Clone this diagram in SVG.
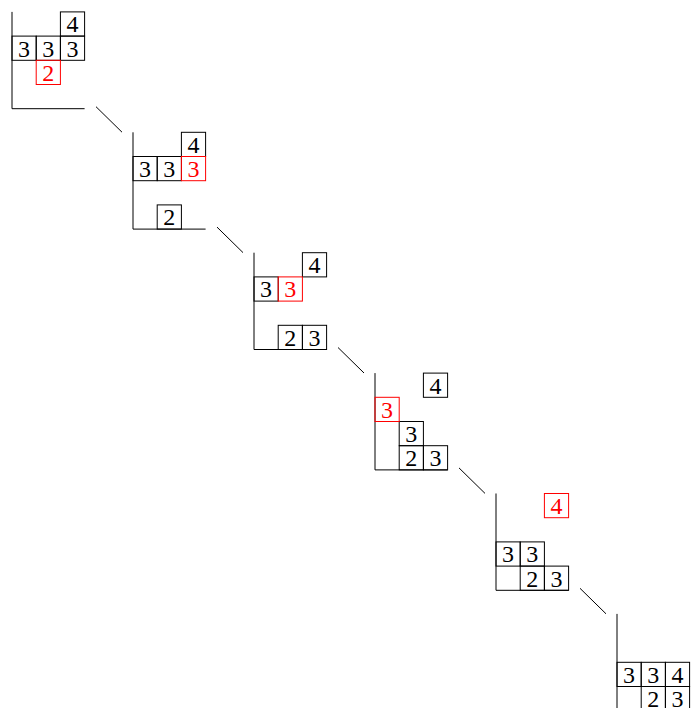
<svg xmlns="http://www.w3.org/2000/svg" width="693" height="708" viewBox="0 0 693 708" font-family="'Liberation Serif', 'DejaVu Serif', serif" font-size="24">
<style>
.ax{fill:none;stroke:#000;stroke-width:1}
.c{fill:none;stroke:#000;stroke-width:1}
.r{fill:none;stroke:#f00;stroke-width:1}
text{text-anchor:middle;fill:#000}
text.t{fill:#f00}
.con line{stroke:#000;stroke-width:1}
</style>
<rect width="693" height="708" fill="#fff"/>
<g class="con" id="connectors">
<line x1="96" y1="106.7" x2="122" y2="132.2"/>
<line x1="217" y1="227.1" x2="243" y2="252.6"/>
<line x1="338" y1="347.5" x2="364" y2="373"/>
<line x1="459" y1="467.9" x2="485" y2="493.4"/>
<line x1="580" y1="588.3" x2="606" y2="613.8"/>
</g>
<g id="stage1" transform="translate(12,108.7)">
<path class="ax" d="M0,-96.8V0H72.6"/>
<rect class="c" x="48.4" y="-96.8" width="24.2" height="24.2"/><text x="60.5" y="-76.3">4</text>
<rect class="c" x="0" y="-72.6" width="24.2" height="24.2"/><text x="12.1" y="-52.1">3</text>
<rect class="c" x="24.2" y="-72.6" width="24.2" height="24.2"/><text x="36.3" y="-52.1">3</text>
<rect class="c" x="48.4" y="-72.6" width="24.2" height="24.2"/><text x="60.5" y="-52.1">3</text>
<rect class="r" x="24.2" y="-48.4" width="24.2" height="24.2"/><text class="t" x="36.3" y="-27.9">2</text>
</g>
<g id="stage2" transform="translate(133,229.1)">
<path class="ax" d="M0,-96.8V0H72.6"/>
<rect class="c" x="48.4" y="-96.8" width="24.2" height="24.2"/><text x="60.5" y="-76.3">4</text>
<rect class="c" x="0" y="-72.6" width="24.2" height="24.2"/><text x="12.1" y="-52.1">3</text>
<rect class="c" x="24.2" y="-72.6" width="24.2" height="24.2"/><text x="36.3" y="-52.1">3</text>
<rect class="c" x="24.2" y="-24.2" width="24.2" height="24.2"/><text x="36.3" y="-3.7">2</text>
<rect class="r" x="48.4" y="-72.6" width="24.2" height="24.2"/><text class="t" x="60.5" y="-52.1">3</text>
</g>
<g id="stage3" transform="translate(254,349.5)">
<path class="ax" d="M0,-96.8V0H72.6"/>
<rect class="c" x="48.4" y="-96.8" width="24.2" height="24.2"/><text x="60.5" y="-76.3">4</text>
<rect class="c" x="0" y="-72.6" width="24.2" height="24.2"/><text x="12.1" y="-52.1">3</text>
<rect class="c" x="24.2" y="-24.2" width="24.2" height="24.2"/><text x="36.3" y="-3.7">2</text>
<rect class="c" x="48.4" y="-24.2" width="24.2" height="24.2"/><text x="60.5" y="-3.7">3</text>
<rect class="r" x="24.2" y="-72.6" width="24.2" height="24.2"/><text class="t" x="36.3" y="-52.1">3</text>
</g>
<g id="stage4" transform="translate(375,469.9)">
<path class="ax" d="M0,-96.8V0H72.6"/>
<rect class="c" x="48.4" y="-96.8" width="24.2" height="24.2"/><text x="60.5" y="-76.3">4</text>
<rect class="c" x="24.2" y="-48.4" width="24.2" height="24.2"/><text x="36.3" y="-27.9">3</text>
<rect class="c" x="24.2" y="-24.2" width="24.2" height="24.2"/><text x="36.3" y="-3.7">2</text>
<rect class="c" x="48.4" y="-24.2" width="24.2" height="24.2"/><text x="60.5" y="-3.7">3</text>
<rect class="r" x="0" y="-72.6" width="24.2" height="24.2"/><text class="t" x="12.1" y="-52.1">3</text>
</g>
<g id="stage5" transform="translate(496,590.3)">
<path class="ax" d="M0,-96.8V0H72.6"/>
<rect class="c" x="0" y="-48.4" width="24.2" height="24.2"/><text x="12.1" y="-27.9">3</text>
<rect class="c" x="24.2" y="-48.4" width="24.2" height="24.2"/><text x="36.3" y="-27.9">3</text>
<rect class="c" x="24.2" y="-24.2" width="24.2" height="24.2"/><text x="36.3" y="-3.7">2</text>
<rect class="c" x="48.4" y="-24.2" width="24.2" height="24.2"/><text x="60.5" y="-3.7">3</text>
<rect class="r" x="48.4" y="-96.8" width="24.2" height="24.2"/><text class="t" x="60.5" y="-76.3">4</text>
</g>
<g id="stage6" transform="translate(617,710.7)">
<path class="ax" d="M0,-96.8V0H72.6"/>
<rect class="c" x="0" y="-48.4" width="24.2" height="24.2"/><text x="12.1" y="-27.9">3</text>
<rect class="c" x="24.2" y="-48.4" width="24.2" height="24.2"/><text x="36.3" y="-27.9">3</text>
<rect class="c" x="48.4" y="-48.4" width="24.2" height="24.2"/><text x="60.5" y="-27.9">4</text>
<rect class="c" x="24.2" y="-24.2" width="24.2" height="24.2"/><text x="36.3" y="-3.7">2</text>
<rect class="c" x="48.4" y="-24.2" width="24.2" height="24.2"/><text x="60.5" y="-3.7">3</text>
</g>
</svg>
